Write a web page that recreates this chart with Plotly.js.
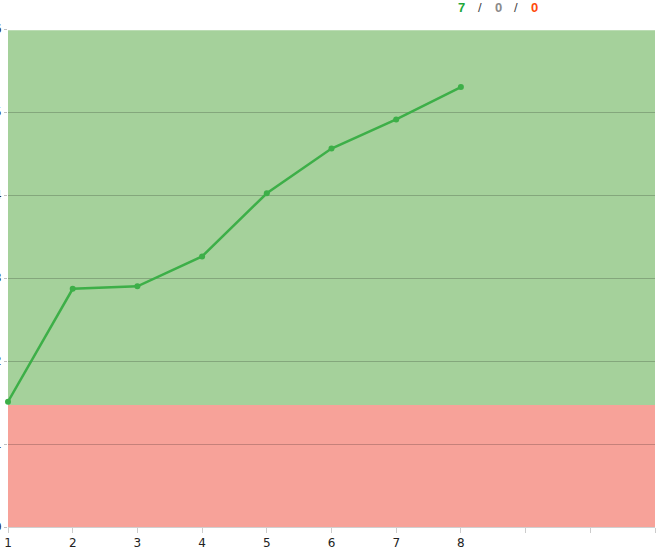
<!DOCTYPE html>
<html>
<head>
<meta charset="utf-8">
<script src="https://cdn.plot.ly/plotly-3.0.1.min.js"></script>
<style>
  html, body { margin: 0; padding: 0; background: #fff; }
  #chart { width: 670px; height: 551px; }
</style>
</head>
<body>
<div id="chart"></div>
<script>
// sprint scores
var rounds = [1, 2, 3, 4, 5, 6, 7, 8];
var scores = [1.51, 2.87, 2.90, 3.26, 4.02, 4.56, 4.91, 5.30];

// x axis runs to 11 but only 1..8 are labelled
var tickVals = [1, 2, 3, 4, 5, 6, 7, 8, 9, 10, 11];
var tickText = ['1', '2', '3', '4', '5', '6', '7', '8', '', '', ''];

// pass line between red and green zones
var threshold = 1.47;

// counts shown top right: good / neutral / bad
var counts = [7, 0, 0];
var countColors = ['#1fa83a', '#8a8a8a', '#ff4a0a'];

var trace = {
  x: rounds,
  y: scores,
  mode: 'lines+markers',
  type: 'scatter',
  line: { color: '#3daf48', width: 2.5 },
  marker: { color: '#3daf48', size: 6 },
  cliponaxis: false,
  hoverinfo: 'x+y'
};

var annots = [];
var xs = [0.7017, 0.7574, 0.8130];
var slashes = [0.7295, 0.7852];
for (var i = 0; i < counts.length; i++) {
  annots.push({
    xref: 'paper', yref: 'paper', x: xs[i], y: 1, yshift: 22,
    xanchor: 'center', yanchor: 'middle',
    text: '<b>' + counts[i] + '</b>', showarrow: false,
    font: { family: 'Liberation Sans, Arial', size: 13, color: countColors[i] }
  });
}
for (var j = 0; j < slashes.length; j++) {
  annots.push({
    xref: 'paper', yref: 'paper', x: slashes[j], y: 1, yshift: 22,
    xanchor: 'center', yanchor: 'middle',
    text: '/', showarrow: false,
    font: { family: 'Liberation Sans, Arial', size: 13, color: '#444' }
  });
}

var layout = {
  width: 670,
  height: 551,
  margin: { l: 8, r: 15, t: 29, b: 24, pad: 0 },
  paper_bgcolor: '#ffffff',
  plot_bgcolor: '#ffffff',
  showlegend: false,
  font: { family: 'DejaVu Sans', size: 12, color: '#222' },
  xaxis: {
    range: [1, 11],
    tickvals: tickVals,
    ticktext: tickText,
    showgrid: false,
    zeroline: false,
    showline: true,
    linecolor: '#d0d0d0',
    linewidth: 1,
    ticks: 'outside',
    ticklen: 5,
    tickcolor: '#cccccc',
    tickfont: { family: 'DejaVu Sans', size: 12, color: '#222' }
  },
  yaxis: {
    range: [0, 6],
    dtick: 1,
    showgrid: true,
    gridcolor: 'rgba(0,0,0,0.2)',
    zeroline: false,
    ticks: 'outside',
    ticklen: 3,
    tickcolor: '#c0c0c0',
    tickfont: { family: 'DejaVu Sans', size: 12, color: '#222' }
  },
  shapes: [
    {
      type: 'rect', xref: 'paper', yref: 'y', layer: 'below',
      x0: 0, x1: 1, y0: threshold, y1: 5.985,
      fillcolor: '#a5d19b', line: { width: 0 }
    },
    {
      type: 'rect', xref: 'paper', yref: 'y', layer: 'below',
      x0: 0, x1: 1, y0: 0, y1: threshold,
      fillcolor: '#f7a299', line: { width: 0 }
    }
  ],
  annotations: annots
};

Plotly.newPlot('chart', [trace], layout, { displayModeBar: false, staticPlot: true });
</script>
</body>
</html>
